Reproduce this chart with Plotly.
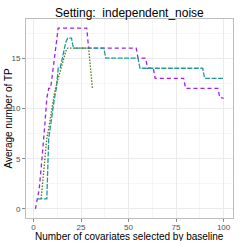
import plotly.graph_objects as go

# Purple series (dashed)
purple_x = [1, 2, 3, 4, 5, 6, 7, 8, 9, 10, 11, 12, 13, 28, 29, 54, 55, 59, 60, 63, 64, 79, 80, 97, 98, 100]
purple_y = [0, 1, 2, 4, 6, 8.5, 11, 12, 12, 13.5, 15, 16.5, 18, 18, 16, 16, 15, 15, 14, 14, 13, 13, 12, 12, 11.1, 11]

# Teal series (long dash)
teal_x = [2, 7, 8, 9, 10, 11, 12, 13, 14, 15, 16, 17, 18, 20, 21, 37, 38, 55, 56, 89, 90, 100]
teal_y = [1, 1, 7, 8.5, 10, 11, 12, 14, 14, 15, 15.8, 16.6, 17, 17, 16, 16, 15, 15, 14, 14, 13, 13]

# Green series (dotted)
green_x = [4, 5, 6, 7, 8, 9, 10, 11, 12, 13, 14, 15, 16, 17, 18, 29, 30, 31]
green_y = [1, 3, 5, 7, 8, 9.2, 10.3, 11.5, 12.3, 13, 13.7, 14.3, 15, 15.7, 16, 16, 14, 12]

x_ticks = [0, 25, 50, 75, 100]
y_ticks = [0, 5, 10, 15]

fig = go.Figure()
fig.add_trace(go.Scatter(x=purple_x, y=purple_y, mode="lines",
                         line=dict(color="#A020F0", width=1.3, dash="4px,3px")))
fig.add_trace(go.Scatter(x=teal_x, y=teal_y, mode="lines",
                         line=dict(color="#23999A", width=1.3, dash="5px,1.5px")))
fig.add_trace(go.Scatter(x=green_x, y=green_y, mode="lines",
                         line=dict(color="#4E7A1E", width=1.3, dash="1.5px,1.5px")))

fig.update_layout(
    width=241, height=241,
    margin=dict(l=26, r=8, t=19, b=23, autoexpand=False),
    paper_bgcolor="white", plot_bgcolor="white",
    showlegend=False,
    font=dict(family="Liberation Sans, Arial, sans-serif", color="#000000"),
    annotations=[
        dict(text="Setting:  independent_noise", xref="paper", yref="paper",
             x=0.5, y=1.0, yshift=6, xanchor="center", yanchor="middle", borderpad=0,
             showarrow=False, font=dict(size=12, color="#000000")),
        dict(text="Number of covariates selected by baseline", xref="paper", yref="paper",
             x=0.5, y=0, yshift=-18, xanchor="center", yanchor="middle", borderpad=0,
             showarrow=False, font=dict(size=10, color="#000000")),
        dict(text="Average number of TP", xref="paper", yref="paper",
             x=0, y=0.5, xshift=-18, xanchor="center", yanchor="middle", textangle=-90,
             borderpad=0, showarrow=False, font=dict(size=10, color="#000000")),
    ],
)
fig.update_xaxes(
    range=[-3.95, 104.95], tickvals=x_ticks, ticktext=[str(v) for v in x_ticks],
    automargin=False, ticklabelstandoff=-2,
    showgrid=True, gridcolor="#EBEBEB", gridwidth=0.8,
    minor=dict(tickvals=[12.5, 37.5, 62.5, 87.5], showgrid=True, gridcolor="#F5F5F5", gridwidth=0.5),
    zeroline=False, showline=True, linecolor="#BDBDBD", linewidth=1, mirror=True,
    ticks="outside", ticklen=3, tickcolor="#8A8A8A",
    tickfont=dict(size=8, color="#4D4D4D"),
)
fig.update_yaxes(
    range=[-0.9, 18.9], tickvals=y_ticks, ticktext=[str(v) for v in y_ticks],
    automargin=False,
    showgrid=True, gridcolor="#EBEBEB", gridwidth=0.8,
    minor=dict(tickvals=[2.5, 7.5, 12.5, 17.5], showgrid=True, gridcolor="#F5F5F5", gridwidth=0.5),
    zeroline=False, showline=True, linecolor="#BDBDBD", linewidth=1, mirror=True,
    ticks="outside", ticklen=3, tickcolor="#8A8A8A",
    tickfont=dict(size=8, color="#4D4D4D"),
)

fig.write_html("out.html", config={"displayModeBar": False},
               post_script="document.body.style.margin='0';document.body.style.overflow='hidden';")
